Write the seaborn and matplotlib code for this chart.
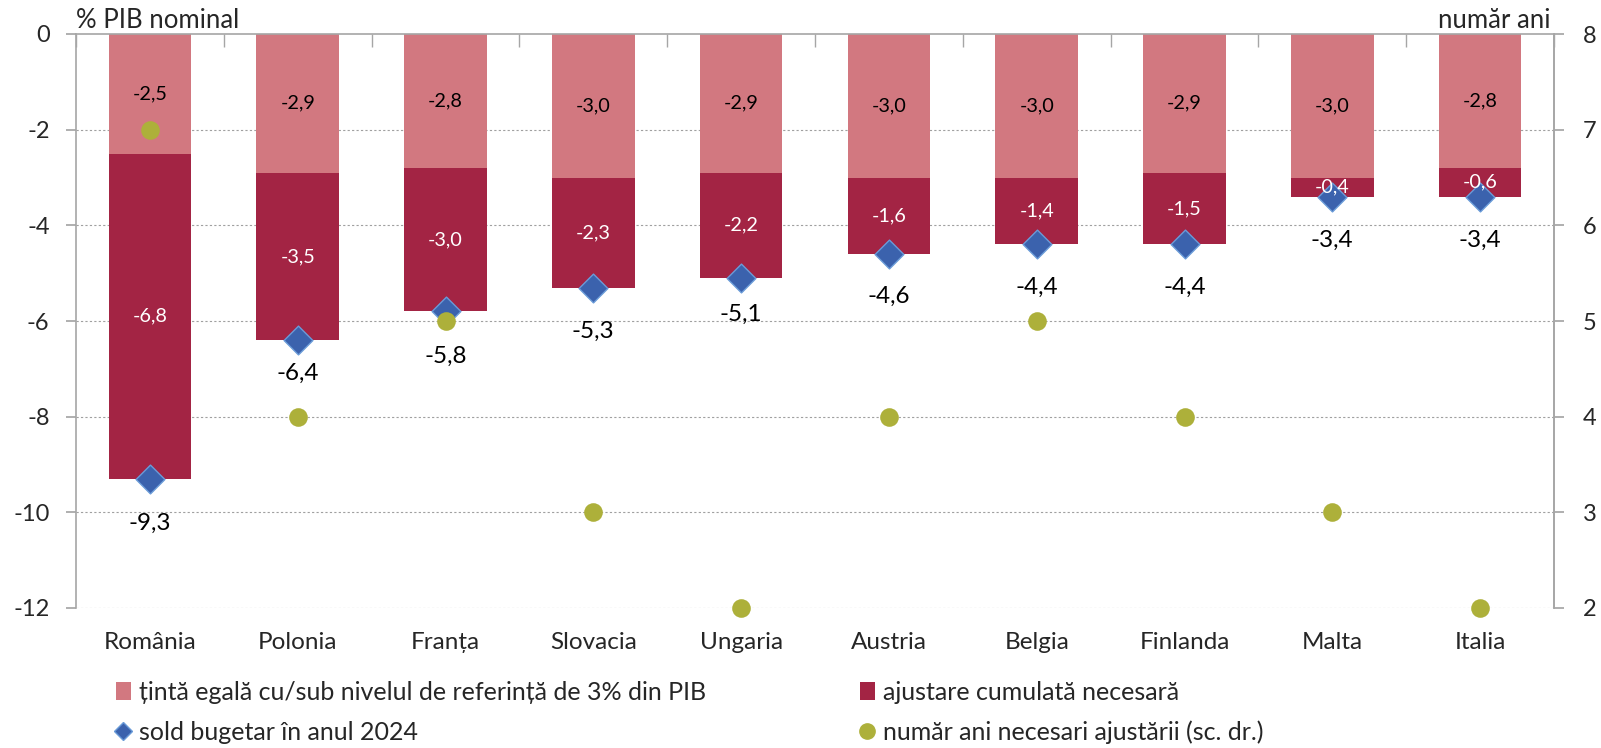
import numpy as np
import matplotlib
matplotlib.use("Agg")
import matplotlib.pyplot as plt
import seaborn as sns
from matplotlib.patches import Patch
from matplotlib.lines import Line2D

# ---- data ----
categories = ["România", "Polonia", "Franța", "Slovacia", "Ungaria",
              "Austria", "Belgia", "Finlanda", "Malta", "Italia"]
target = [-2.5, -2.9, -2.8, -3.0, -2.9, -3.0, -3.0, -2.9, -3.0, -2.8]
adjustment = [-6.8, -3.5, -3.0, -2.3, -2.2, -1.6, -1.4, -1.5, -0.4, -0.6]
balance_2024 = [-9.3, -6.4, -5.8, -5.3, -5.1, -4.6, -4.4, -4.4, -3.4, -3.4]
years_needed = [7, 4, 5, 3, 2, 4, 5, 4, 3, 2]
left_ticks = [0, -2, -4, -6, -8, -10, -12]
right_ticks = [2, 3, 4, 5, 6, 7, 8]

legend_labels = ["țintă egală cu/sub nivelul de referință de 3% din PIB",
                 "ajustare cumulată necesară",
                 "sold bugetar în anul 2024",
                 "număr ani necesari ajustării (sc. dr.)"]

# label placement (pixels below each diamond)
balance_label_offset_px = [44, 33, 45, 44, 36, 42, 43, 43, 44, 44]

# ---- style ----
sns.set_theme(style="white")
plt.rcParams['font.family'] = ['Lato', 'DejaVu Sans']

C_PINK = "#D27880"
C_DARK = "#A32444"
C_BLUE = "#3B62AD"
C_BLUE_EDGE = "#6A9BD8"
C_OLIVE = "#ADB03A"
C_AXIS = "#A6A6A6"

W, H = 1601, 748
PX = 72 / 100  # points per pixel
fig = plt.figure(figsize=(W / 100, H / 100), dpi=100)
ax = fig.add_axes([76 / W, 1 - 608 / H, (1554 - 76) / W, (608 - 34) / H])

pos = np.arange(len(categories))
total = [t + a for t, a in zip(target, adjustment)]
sns.barplot(x=pos, y=total, color=C_DARK, saturation=1, width=0.56, ax=ax,
            native_scale=True, zorder=2, linewidth=0, edgecolor="none")
sns.barplot(x=pos, y=target, color=C_PINK, saturation=1, width=0.56, ax=ax,
            native_scale=True, zorder=2, linewidth=0, edgecolor="none")

sns.scatterplot(x=pos, y=balance_2024, marker="D", s=215, color=C_BLUE,
                edgecolor=C_BLUE_EDGE, linewidth=1.0, ax=ax, zorder=4)

ax.set_xlim(-0.5, len(categories) - 0.5)
ax.set_ylim(-12, 0)
ax.set_yticks(left_ticks)
ax.set_yticklabels([str(v) for v in left_ticks])
ax.set_xticks(pos)
ax.set_xticklabels(categories)
ax.set_xticks(np.arange(len(categories) + 1) - 0.5, minor=True)
ax.tick_params(axis='x', which='major', length=0, pad=17, labelsize=17.5,
               bottom=False, top=False)
ax.tick_params(axis='x', which='minor', top=True, bottom=False,
               direction='in', length=9, color=C_AXIS, width=1)
ax.tick_params(axis='y', which='major', left=True, length=7, color=C_AXIS,
               pad=12, labelsize=17)
ax.set_xlabel("")
ax.set_ylabel("")

for yv in left_ticks[1:]:
    ax.axhline(yv, color="#A0A0A0", linestyle=(0, (2, 2)), linewidth=0.8,
               zorder=1)

for s in ["top", "left", "right"]:
    ax.spines[s].set_visible(True)
    ax.spines[s].set_color(C_AXIS)
    ax.spines[s].set_linewidth(1.2)
ax.spines["bottom"].set_visible(False)

# labels
for i in range(len(categories)):
    ax.text(pos[i], target[i] / 2, f"{target[i]:.1f}".replace(".", ","),
            ha="center", va="center", fontsize=14.3, color="black",
            zorder=5)
    ax.text(pos[i], target[i] + adjustment[i] / 2,
            f"{adjustment[i]:.1f}".replace(".", ","),
            ha="center", va="center", fontsize=14.3, color="white",
            zorder=5)
    ax.annotate(f"{balance_2024[i]:.1f}".replace(".", ","),
                (pos[i], balance_2024[i]),
                xytext=(0, -balance_label_offset_px[i] * PX),
                textcoords="offset points", ha="center", va="center",
                fontsize=17.5, color="black", zorder=5)

# right axis
ax2 = ax.twinx()
sns.scatterplot(x=pos, y=years_needed, marker="o", s=180, color=C_OLIVE,
                edgecolor=C_OLIVE, linewidth=0, ax=ax2, zorder=6,
                clip_on=False)
ax2.set_ylim(2, 8)
ax2.set_yticks(right_ticks)
ax2.set_yticklabels([str(v) for v in right_ticks])
ax2.tick_params(axis='y', right=True, length=7, color=C_AXIS, pad=14,
                labelsize=17)
ax2.set_ylabel("")
ax2.grid(False)
for s in ["top", "left", "bottom"]:
    ax2.spines[s].set_visible(False)
ax2.spines["right"].set_color(C_AXIS)
ax2.spines["right"].set_linewidth(1.2)
ax2.set_xlim(-0.5, len(categories) - 0.5)

fig.text(76 / W, 1 - 20 / H, "% PIB nominal", ha="left", va="center",
         fontsize=18.5)
fig.text(1550 / W, 1 - 20 / H, "număr ani", ha="right", va="center",
         fontsize=18.5)

# legend entries
h_pink = Patch(facecolor=C_PINK, edgecolor="none")
h_dark = Patch(facecolor=C_DARK, edgecolor="none")
h_blue = Line2D([], [], marker="D", linestyle="none", markersize=9,
                markerfacecolor=C_BLUE, markeredgecolor=C_BLUE_EDGE)
h_olive = Line2D([], [], marker="o", linestyle="none", markersize=11,
                 markerfacecolor=C_OLIVE, markeredgecolor=C_OLIVE)
leg_kw = dict(frameon=False, fontsize=18, handlelength=0.6,
              handleheight=0.75, handletextpad=0.34,
              borderpad=0, borderaxespad=0, loc="center left")
entries = [(h_pink, legend_labels[0], 115.5, 692),
           (h_dark, legend_labels[1], 859.5, 692),
           (h_blue, legend_labels[2], 115.5, 732),
           (h_olive, legend_labels[3], 859.5, 732)]
for h, lab, x, y in entries:
    fig.legend([h], [lab], bbox_to_anchor=(x / W, 1 - y / H), **leg_kw)

fig.savefig("out.png", dpi=100)
